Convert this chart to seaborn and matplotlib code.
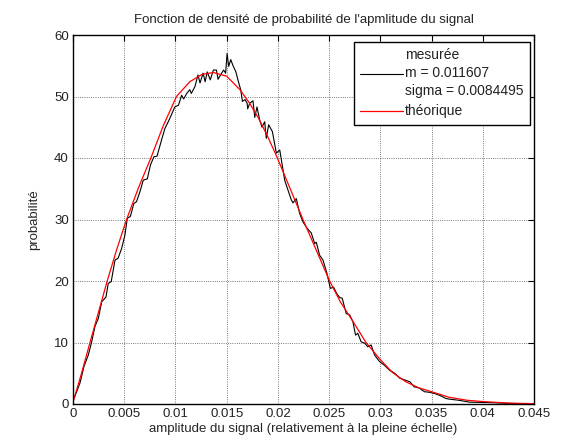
import pandas as pd
import matplotlib
matplotlib.use("Agg")
import matplotlib.pyplot as plt
import seaborn as sns

meas_x = [0.0001, 0.00068, 0.00107, 0.0015, 0.00182, 0.00214, 0.00247, 0.0028, 0.00322, 0.00344,
          0.00373, 0.0041, 0.0044, 0.00475, 0.00507, 0.0053, 0.0056, 0.00594, 0.0062, 0.00653,
          0.00686, 0.00725, 0.00757, 0.0079, 0.0082, 0.00864, 0.00897, 0.0093, 0.0096, 0.00994,
          0.0103, 0.0106, 0.0108, 0.0111, 0.0114, 0.01155, 0.0119, 0.0122, 0.0124, 0.0127,
          0.0129, 0.0131, 0.0134, 0.0137, 0.014, 0.01416, 0.0144, 0.0147, 0.0149, 0.01504,
          0.0152, 0.0154, 0.0156, 0.0159, 0.0161, 0.01637, 0.01654, 0.0168, 0.0170, 0.01705,
          0.01725, 0.01757, 0.01774, 0.01796, 0.01822, 0.01845, 0.01871, 0.01887, 0.0191, 0.01946,
          0.01985, 0.02018, 0.02034, 0.02066, 0.02098, 0.02131, 0.02147, 0.0218, 0.02212, 0.02245,
          0.02284, 0.02326, 0.02359, 0.02375, 0.02407, 0.0244, 0.02478, 0.02512, 0.02544, 0.02576,
          0.02605, 0.02628, 0.02667, 0.027, 0.02732, 0.02758, 0.0278, 0.02813, 0.02846, 0.02878,
          0.0291, 0.02943, 0.02992, 0.0304, 0.0309, 0.0314, 0.0319, 0.0324, 0.0329, 0.0333,
          0.0338, 0.0343, 0.0348, 0.0353, 0.0358, 0.0364, 0.0367, 0.0377, 0.0387, 0.04,
          0.0411, 0.0425, 0.0441, 0.045]
meas_y = [0.9, 3.4, 6.1, 8.0, 10.1, 12.6, 13.9, 16.6, 17.4, 19.6,
          19.9, 23.4, 23.7, 25.3, 27.5, 30.2, 30.5, 32.6, 32.9, 34.5,
          36.4, 36.6, 38.9, 40.2, 40.3, 42.9, 44.8, 45.9, 47.0, 48.3,
          48.6, 50.2, 49.6, 50.5, 51.1, 50.5, 51.6, 53.5, 52.2, 53.8,
          52.4, 54.0, 52.7, 54.3, 54.3, 52.8, 53.5, 54.3, 53.8, 57.0,
          54.9, 56.0, 55.1, 54.0, 52.7, 51.1, 49.2, 49.5, 48.9, 48.0,
          48.9, 49.3, 46.6, 48.3, 46.2, 45.0, 45.9, 43.2, 45.4, 44.3,
          40.8, 41.3, 39.7, 36.4, 34.8, 33.2, 32.7, 33.4, 31.0, 29.6,
          28.6, 27.8, 26.1, 26.3, 24.2, 23.4, 21.3, 18.8, 19.0, 17.9,
          17.3, 17.2, 14.7, 14.5, 13.4, 11.2, 11.5, 10.1, 9.9, 9.3,
          9.6, 8.0, 6.9, 6.3, 5.5, 5.0, 4.2, 3.9, 3.6, 2.8,
          2.6, 2.0, 1.9, 1.7, 1.4, 0.9, 0.8, 0.6, 0.3, 0.25,
          0.2, 0.1, 0.05, 0.02]

# theoretical pdf (red)
theo_x = [0.0, 0.0008, 0.00166, 0.0025, 0.00334, 0.0043, 0.00523, 0.0064, 0.0076, 0.0088,
          0.0101, 0.0114, 0.0126, 0.0137, 0.015, 0.0163, 0.0172, 0.0181, 0.019, 0.0199,
          0.0212, 0.02245, 0.02375, 0.02505, 0.0261, 0.0273, 0.0286, 0.030, 0.0312, 0.0325,
          0.0338, 0.035, 0.0367, 0.0385, 0.040, 0.0425, 0.045]
theo_y = [0.3, 4.8, 10.0, 15.0, 20.0, 25.3, 30.0, 35.2, 40.0, 45.2,
          50.0, 52.4, 53.6, 53.9, 53.3, 51.1, 49.0, 46.5, 43.5, 40.2,
          35.0, 30.0, 25.0, 20.0, 16.6, 13.5, 10.0, 7.2, 5.1, 3.6,
          2.6, 2.0, 1.1, 0.6, 0.4, 0.15, 0.05]

x_ticks = [0, 0.005, 0.01, 0.015, 0.02, 0.025, 0.03, 0.035, 0.04, 0.045]
x_labels = ["0", "0.005", "0.01", "0.015", "0.02", "0.025", "0.03", "0.035", "0.04", "0.045"]
y_ticks = [0, 10, 20, 30, 40, 50, 60]

sns.set_style("white")
plt.rcParams['font.family'] = ['Liberation Sans', 'DejaVu Sans']
plt.rcParams['font.size'] = 9.5
plt.rcParams['text.color'] = '#222222'

meas = pd.DataFrame({"x": meas_x, "y": meas_y})
theo = pd.DataFrame({"x": theo_x, "y": theo_y})

fig = plt.figure(figsize=(5.82, 4.42), dpi=100)
ax = fig.add_axes([73 / 582, 38 / 442, 461 / 582, 369 / 442])

sns.lineplot(data=meas, x="x", y="y", ax=ax, color="black", linewidth=0.8,
             estimator=None, sort=False, label="mesurée\nm = 0.011607\nsigma = 0.0084495")
sns.lineplot(data=theo, x="x", y="y", ax=ax, color="red", linewidth=0.9,
             estimator=None, sort=False, label="théorique")

ax.set_xlim(0, 0.045)
ax.set_ylim(0, 60)
ax.set_xticks(x_ticks)
ax.set_xticklabels(x_labels)
ax.set_yticks(y_ticks)
ax.grid(True, color="black", linestyle=":", linewidth=0.6, alpha=0.7)
ax.tick_params(direction="in", top=True, right=True, length=4, width=0.8,
               labelsize=9.5, colors="black", labelcolor="#222222", pad=3)
for s in ax.spines.values():
    s.set_color("black")
    s.set_linewidth(1.0)

ax.set_title("Fonction de densité de probabilité de l'apmlitude du signal", fontsize=9.5, pad=9)
ax.set_xlabel("amplitude du signal (relativement à la pleine échelle)", fontsize=9.5, labelpad=2)
ax.set_ylabel("probabilité", fontsize=9.5, labelpad=10)

leg = ax.legend(loc="upper right", bbox_to_anchor=(457 / 461, 362 / 369), borderaxespad=0,
                fancybox=False, edgecolor="black", framealpha=1, handlelength=3.1,
                handletextpad=0.15, labelspacing=0.45, borderpad=0.45, fontsize=10)
leg.get_frame().set_linewidth(1.0)
for t in leg.get_texts():
    t.set_linespacing(1.36)

fig.savefig("out.png", dpi=100)
